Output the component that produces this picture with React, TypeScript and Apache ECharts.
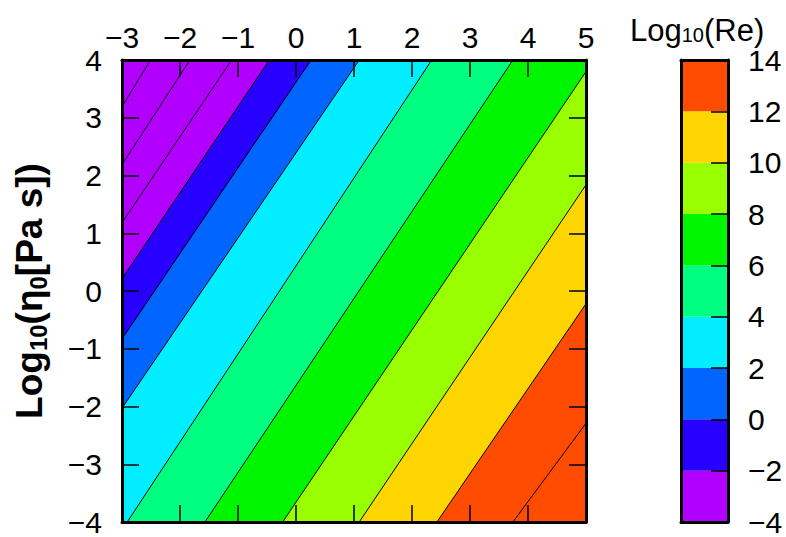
import React, { useEffect, useRef } from "react";
import * as echarts from "echarts";

// Axis ranges and ticks
const xRange = [-3, 5];
const yRange = [-4, 4];
const cbRange = [-4, 14];

// Contour lines of Log10(Re): level, entry point and exit point on the frame
const contourLevels = [-8, -6, -4, -2, 0, 2, 4, 6, 8, 10, 12, 14];
const contourStart = [
  [-3, 3.19], [-3, 2.19], [-3, 1.18], [-3, 0.21], [-3, -0.83], [-3, -2.03],
  [-2.91, -4], [-1.57, -4], [-0.23, -4], [1.09, -4], [2.43, -4], [3.74, -4],
];
const contourEnd = [
  [-2.51, 4], [-1.83, 4], [-1.11, 4], [-0.46, 4], [0.26, 4], [1.09, 4],
  [2.34, 4], [3.74, 4], [5, 3.8], [5, 1.84], [5, -0.22], [5, -2.29],
];

// Colour bands (lower bound of each band) and colours
const bandLevels = [-4, -2, 0, 2, 4, 6, 8, 10, 12, 14];
const bandColors = [
  "#b200ff", "#2800ff", "#0066ff", "#00eeff", "#00ff80",
  "#00f500", "#99ff00", "#ffd500", "#ff4c00",
];

const FONT = "'Liberation Sans', Arial, Helvetica, sans-serif";
const minus = (v: number) => String(v).replace("-", "\u2212");

export default function App() {
  const ref = useRef<HTMLDivElement>(null);

  useEffect(() => {
    if (!ref.current) return;
    const chart = echarts.init(ref.current, null, { renderer: "svg" });

    const [xMin, xMax] = xRange;
    const [yMin, yMax] = yRange;

    const frameLine = { show: true, onZero: false, lineStyle: { color: "#000", width: 3 } };
    const tick = { show: true, inside: true, length: 17, lineStyle: { color: "#000", width: 1.5 } };
    const label = { fontSize: 30, color: "#000", fontFamily: FONT, formatter: minus };

    const option: any = {
      animation: false,
      backgroundColor: "#fff",
      title: {
        text: "{a|Log}{s|10}{a|(Re)}",
        left: 630,
        top: 15,
        padding: 0,
        textStyle: {
          fontWeight: "normal",
          rich: {
            a: { fontSize: 31, fontWeight: "normal", fontFamily: FONT, color: "#000", lineHeight: 30 },
            s: { fontSize: 20, fontWeight: "normal", fontFamily: FONT, color: "#000", lineHeight: 16, verticalAlign: "bottom" },
          },
        },
      },
      grid: [
        { left: 122, top: 60, width: 464, height: 464 },
        { left: 681, top: 60, width: 47, height: 464 },
      ],
      xAxis: [
        {
          gridIndex: 0, type: "value", min: xMin, max: xMax, interval: 1, position: "top", z: 10,
          axisLine: frameLine, axisTick: tick,
          axisLabel: { ...label, margin: 8 },
          splitLine: { show: false },
        },
        {
          gridIndex: 0, type: "value", min: xMin, max: xMax, interval: 1, position: "bottom", z: 10,
          axisLine: frameLine, axisTick: tick, axisLabel: { show: false }, splitLine: { show: false },
        },
        {
          gridIndex: 1, type: "value", min: 0, max: 1, position: "bottom", z: 10,
          axisLine: frameLine, axisTick: { show: false }, axisLabel: { show: false }, splitLine: { show: false },
        },
        {
          gridIndex: 1, type: "value", min: 0, max: 1, position: "top", z: 10,
          axisLine: frameLine, axisTick: { show: false }, axisLabel: { show: false }, splitLine: { show: false },
        },
      ],
      yAxis: [
        {
          gridIndex: 0, type: "value", min: yMin, max: yMax, interval: 1, position: "left", z: 10,
          axisLine: frameLine, axisTick: tick,
          axisLabel: { ...label, margin: 20 },
          splitLine: { show: false },
          name: "{b|Log}{s|10}{b|(η}{s|0}{b|[Pa s])}",
          nameLocation: "middle",
          nameRotate: 90,
          nameGap: 72,
          nameTextStyle: {
            rich: {
              b: { fontSize: 37, fontWeight: "bold", fontFamily: FONT, color: "#000", lineHeight: 42 },
              s: { fontSize: 24, fontWeight: "bold", fontFamily: FONT, color: "#000", lineHeight: 24, verticalAlign: "bottom" },
            },
          },
        },
        {
          gridIndex: 0, type: "value", min: yMin, max: yMax, interval: 1, position: "right", z: 10,
          axisLine: frameLine, axisTick: tick, axisLabel: { show: false }, splitLine: { show: false },
        },
        {
          gridIndex: 1, type: "value", min: cbRange[0], max: cbRange[1], interval: 2, position: "left", z: 10,
          axisLine: frameLine, axisTick: { show: false }, axisLabel: { show: false }, splitLine: { show: false },
        },
        {
          gridIndex: 1, type: "value", min: cbRange[0], max: cbRange[1], interval: 2, position: "right", z: 10,
          axisLine: frameLine, axisTick: tick,
          axisLabel: { ...label, margin: 20 },
          splitLine: { show: false },
        },
      ],
      series: [
        {
          type: "custom",
          name: "bands",
          xAxisIndex: 0,
          yAxisIndex: 0,
          clip: true,
          silent: true,
          data: bandColors.map((_, k) => [k]),
          renderItem: (_params: any, api: any) => {
            const k = api.value(0);
            let pts: number[][];
            if (k === 0) {
              pts = [[xMin, yMax], [xMax, yMax], [xMax, yMin], [xMin, yMin]];
            } else {
              const i = contourLevels.indexOf(bandLevels[k]);
              const p1 = contourStart[i];
              const p2 = contourEnd[i];
              pts = [p1, p2];
              if (p2[1] === yMax) pts.push([xMax, yMax]);
              pts.push([xMax, yMin]);
              if (p1[0] === xMin) pts.push([xMin, yMin]);
            }
            return {
              type: "polygon",
              shape: { points: pts.map((p) => api.coord(p)) },
              style: { fill: bandColors[k] },
            };
          },
        },
        {
          type: "custom",
          name: "contours",
          xAxisIndex: 0,
          yAxisIndex: 0,
          clip: true,
          silent: true,
          data: contourLevels.map((_, i) => [i]),
          renderItem: (_params: any, api: any) => {
            const i = api.value(0);
            const a = api.coord(contourStart[i]);
            const b = api.coord(contourEnd[i]);
            return {
              type: "line",
              shape: { x1: a[0], y1: a[1], x2: b[0], y2: b[1] },
              style: { stroke: "#000", lineWidth: 1 },
            };
          },
        },
        {
          type: "custom",
          name: "colorbar",
          xAxisIndex: 2,
          yAxisIndex: 3,
          silent: true,
          data: bandColors.map((_, k) => [k]),
          renderItem: (_params: any, api: any) => {
            const k = api.value(0);
            const tl = api.coord([0, bandLevels[k + 1]]);
            const br = api.coord([1, bandLevels[k]]);
            return {
              type: "rect",
              shape: { x: tl[0], y: tl[1], width: br[0] - tl[0], height: br[1] - tl[1] },
              style: { fill: bandColors[k] },
            };
          },
        },
      ],
    };

    chart.setOption(option);
    return () => chart.dispose();
  }, []);

  return (
    <div
      ref={ref}
      style={{ position: "fixed", left: 0, top: 0, width: 786, height: 537 }}
    />
  );
}
